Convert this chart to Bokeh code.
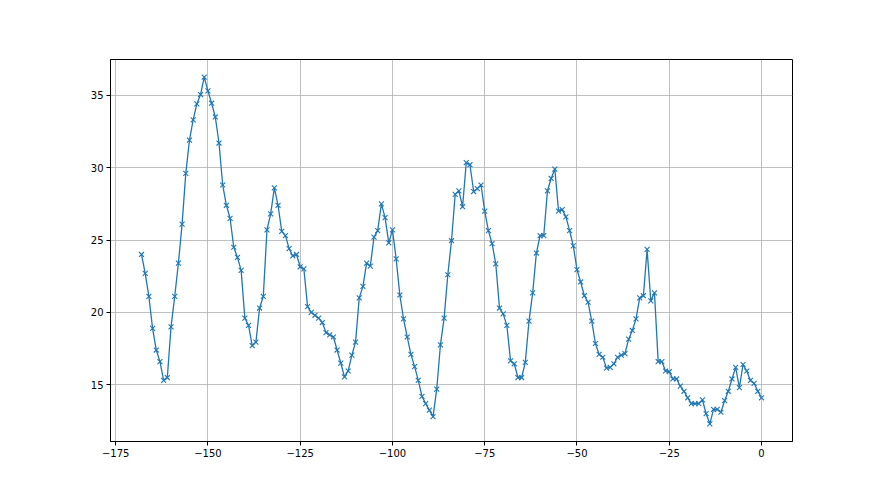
from bokeh.plotting import figure
from bokeh.embed import file_html
from bokeh.resources import INLINE
from bokeh.models import Range1d, FixedTicker

x_values = list(range(-168, 1))
y_values = [
    24.0, 22.7, 21.1, 18.9, 17.4, 16.6, 15.3, 15.5, 19.0, 21.1,
    23.4, 26.1, 29.6, 31.9, 33.3, 34.4, 35.05, 36.25, 35.3, 34.45,
    33.5, 31.7, 28.8, 27.4, 26.5, 24.5, 23.8, 22.9, 19.6, 19.1,
    17.7, 17.95, 20.3, 21.1, 25.7, 26.8, 28.6, 27.4, 25.6, 25.3,
    24.4, 23.9, 24.0, 23.15, 23.0, 20.4, 20.0, 19.8, 19.6, 19.3,
    18.6, 18.45, 18.3, 17.4, 16.5, 15.55, 15.95, 17.05, 17.95, 21.0,
    21.8, 23.4, 23.2, 25.2, 25.65, 27.5, 26.55, 24.8, 25.7, 23.7,
    21.2, 19.55, 18.3, 17.1, 16.25, 15.3, 14.2, 13.7, 13.25, 12.8,
    14.7, 17.75, 19.6, 22.6, 24.95, 28.15, 28.4, 27.3, 30.35, 30.2,
    28.35, 28.55, 28.8, 27.0, 25.65, 24.75, 23.35, 20.3, 19.9, 19.1,
    16.65, 16.45, 15.5, 15.5, 16.55, 19.4, 21.35, 24.1, 25.3, 25.3,
    28.4, 29.25, 29.9, 27.0, 27.1, 26.6, 25.65, 24.6, 22.95, 22.1,
    21.15, 20.7, 19.4, 17.85, 17.1, 16.9, 16.15, 16.2, 16.45, 16.9,
    17.05, 17.15, 18.15, 18.75, 19.55, 21.0, 21.15, 24.35, 20.8, 21.35,
    16.6, 16.6, 15.95, 15.9, 15.4, 15.4, 14.9, 14.55, 14.1, 13.7,
    13.7, 13.7, 13.95, 13.0, 12.3, 13.3, 13.3, 13.1, 13.9, 14.55,
    15.4, 16.2, 14.8, 16.4, 15.95, 15.3, 15.1, 14.55, 14.1,
]
x_ticks = [-175, -150, -125, -100, -75, -50, -25, 0]
y_ticks = [15, 20, 25, 30, 35]

color = "#1f77b4"
font = "DejaVu Sans"

p = figure(
    frame_width=682, frame_height=382,
    min_border_left=110, min_border_right=78,
    min_border_top=59, min_border_bottom=46,
    output_backend="svg", toolbar_location=None,
    x_range=Range1d(-176.4, 8.4), y_range=Range1d(11.08, 37.47),
)
p.background_fill_color = "white"
p.border_fill_color = "white"
p.outline_line_color = "black"
p.outline_line_width = 1

p.line(x_values, y_values, line_color=color, line_width=1.3)
p.scatter(x_values, y_values, marker="x", size=7, line_color=color, line_width=1.1)

for ax, ticks in ((p.xaxis[0], x_ticks), (p.yaxis[0], y_ticks)):
    ax.ticker = FixedTicker(ticks=ticks)
    ax.major_label_overrides = {t: (str(t).replace("-", "\u2212")) for t in ticks}
    ax.minor_tick_line_color = None
    ax.major_tick_out = 4
    ax.major_tick_in = 0
    ax.major_tick_line_color = "black"
    ax.axis_line_color = "black"
    ax.major_label_text_font = font
    ax.major_label_text_font_size = "10px"
    ax.major_label_text_color = "black"
    ax.major_label_standoff = 3

for g in (p.xgrid[0], p.ygrid[0]):
    g.grid_line_color = "#b0b0b0"
    g.grid_line_width = 0.8

open("out.html", "w").write(file_html(p, INLINE))
